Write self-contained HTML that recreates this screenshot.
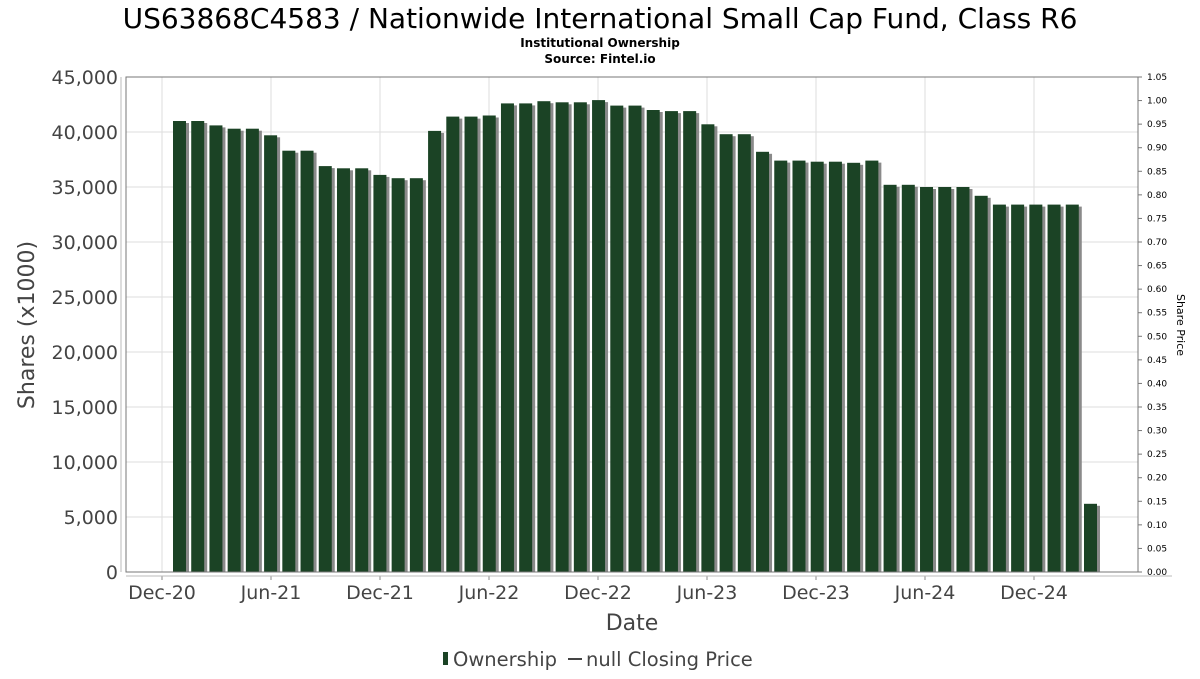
<!DOCTYPE html>
<html><head><meta charset="utf-8"><style>
body{margin:0;background:#fff;font-family:"DejaVu Sans","Liberation Sans",sans-serif;}
</style></head><body>
<svg id="chart" width="1200" height="675" xmlns="http://www.w3.org/2000/svg" font-family="DejaVu Sans, Liberation Sans, sans-serif">
<text x="600" y="28" text-anchor="middle" font-size="28" fill="#000">US63868C4583 / Nationwide International Small Cap Fund, Class R6</text>
<text x="600" y="47" text-anchor="middle" font-size="12" font-weight="bold">Institutional Ownership</text>
<text x="600" y="63" text-anchor="middle" font-size="12" font-weight="bold">Source: Fintel.io</text>
<g id="grid"></g><g id="bars"></g><g id="axes"></g>
<text x="632" y="630" text-anchor="middle" font-size="22" fill="#444">Date</text>
<text transform="translate(34,325) rotate(-90)" text-anchor="middle" font-size="22" fill="#444">Shares (x1000)</text>
<text transform="translate(1177,325) rotate(90)" text-anchor="middle" font-size="11" fill="#000">Share Price</text>
<g>
<rect x="443" y="652" width="5" height="13" fill="#1b4325"/>
<text x="453" y="666" font-size="19.5" fill="#444">Ownership</text>
<line x1="568" y1="659" x2="582" y2="659" stroke="#444" stroke-width="2"/>
<text x="586" y="666" font-size="19.5" fill="#444">null Closing Price</text>
</g>
</svg>
<script>
const values=[41000,41000,40600,40300,40300,39700,38300,38300,36900,36700,36700,36100,35800,35800,40100,41400,41400,41500,42600,42600,42800,42700,42700,42900,42400,42400,42000,41900,41900,40700,39800,39800,38200,37400,37400,37300,37300,37200,37400,35200,35200,35000,35000,35000,34200,33400,33400,33400,33400,33400,6200];
const yTicks=[0,5000,10000,15000,20000,25000,30000,35000,40000,45000];
const xTickLabels=["Dec-20","Jun-21","Dec-21","Jun-22","Dec-22","Jun-23","Dec-23","Jun-24","Dec-24"];
const priceTicks=[0,0.05,0.1,0.15,0.2,0.25,0.3,0.35,0.4,0.45,0.5,0.55,0.6,0.65,0.7,0.75,0.8,0.85,0.9,0.95,1.0,1.05];
const L=126,R=1138,T=77,B=572;
const y=v=>B-(v/45000)*(B-T);
const yp=v=>B-(v/1.05)*(B-T);
const xb=i=>180+i*18.22;
const xt=i=>162+i*109;
const NS="http://www.w3.org/2000/svg";
function mk(p,tag,a){const e=document.createElementNS(NS,tag);for(const k in a)e.setAttribute(k,a[k]);p.appendChild(e);return e;}
const g=document.getElementById('grid'),bg=document.getElementById('bars'),ax=document.getElementById('axes');
yTicks.forEach(v=>{
 const l=mk(g,'line',{x1:L,x2:R,y1:y(v),y2:y(v),stroke:'#ddd'});
 
 
 const t=mk(ax,'text',{x:L-8,y:y(v)+7,'text-anchor':'end','font-size':19,fill:'#444'});
 t.textContent=v.toLocaleString('en-US');
 
 
});
xTickLabels.forEach((s,i)=>{
 const l=mk(g,'line',{x1:xt(i),x2:xt(i),y1:T,y2:B,stroke:'#ddd'});
 
 
 mk(ax,'line',{x1:xt(i),x2:xt(i),y1:576,y2:580,stroke:'#888'});
 const t=mk(ax,'text',{x:xt(i),y:599,'text-anchor':'middle','font-size':19,fill:'#444'});
 t.textContent=s;
 
 
});
values.forEach((v,i)=>{
 const x=xb(i)-7;
 mk(bg,'rect',{x:x+3,y:y(v)+2,width:13,height:B-y(v)-2,fill:'#8a8a8a'});
 const r=mk(bg,'rect',{x:x,y:y(v),width:13,height:B-y(v),fill:'#1b4325'});
 
 
});
mk(ax,'rect',{x:L,y:T,width:R-L,height:B-T,fill:'none',stroke:'#777'});
mk(ax,'line',{x1:L,x2:1172,y1:576,y2:576,stroke:'#bbb'});
mk(ax,'line',{x1:121,x2:121,y1:T,y2:B,stroke:'#bbb'});
priceTicks.forEach(v=>{
 mk(ax,'line',{x1:R,x2:R+4,y1:yp(v),y2:yp(v),stroke:'#777'});
 const t=mk(ax,'text',{x:R+9,y:yp(v)+3,'font-size':9,fill:'#000'});
 t.textContent=v.toFixed(2);
 
 
});
</script>
</body></html>
